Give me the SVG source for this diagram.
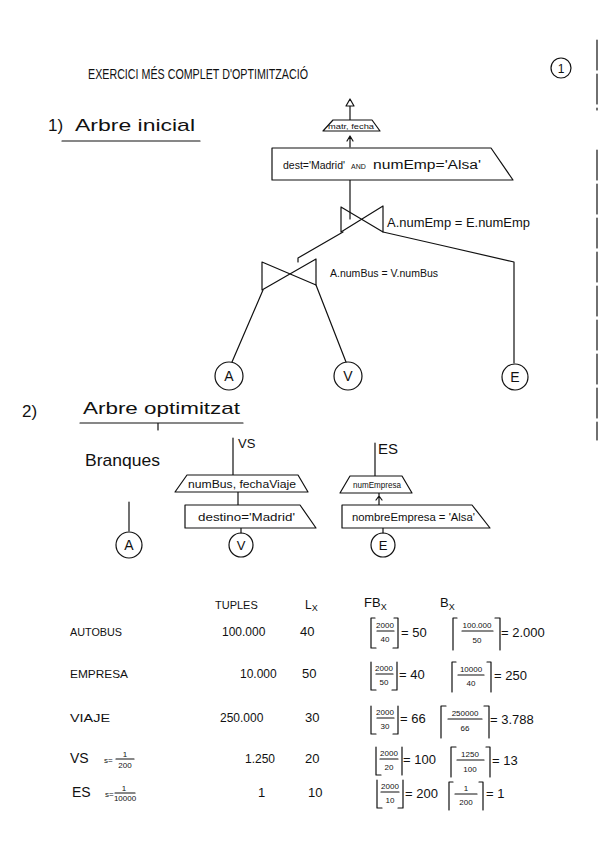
<svg xmlns="http://www.w3.org/2000/svg" width="599" height="848" viewBox="0 0 599 848">
<style>
text{font-family:"Liberation Sans","DejaVu Sans",sans-serif;fill:#111}
.ln{fill:none;stroke:#111;stroke-width:1.2;stroke-linecap:round;stroke-linejoin:round}
.sh{fill:#fff;stroke:#111;stroke-width:1.2;stroke-linejoin:round}
.c{text-anchor:middle}
.fr{font-size:8px;text-anchor:middle}
.row{font-size:13px}
</style>
<rect width="599" height="848" fill="#fff"/>

<g id="title">
<text x="88" y="79" font-size="15" textLength="220" lengthAdjust="spacingAndGlyphs">EXERCICI  MÉS  COMPLET  D'OPTIMITZACIÓ</text>
<circle cx="561" cy="68" r="10" class="ln"/>
<text x="561" y="73" font-size="12" class="c">1</text>
<path class="ln" d="M597 40V110M597 150V440" stroke-dasharray="30 4"/>
</g>

<g id="sec1">
<text x="48" y="131" font-size="17">1)</text>
<text x="75" y="131" font-size="17" textLength="120" lengthAdjust="spacingAndGlyphs">Arbre inicial</text>
<path class="ln" d="M62 141H200"/>
</g>

<g id="connectors">
<path class="ln" d="M350 120V106"/>
<path class="ln" d="M350 147V137M347 141L350 136L353 141"/>
<path class="ln" d="M350 180V219"/>
<path class="ln" d="M343 232L298 258V262"/>
<path class="ln" d="M383 232L440 245L514 262V363"/>
<path class="ln" d="M263 290L232 362"/>
<path class="ln" d="M316 285L346 362"/>
<path class="ln" d="M233 438V475"/>
<path class="ln" d="M238 492V505"/>
<path class="ln" d="M241 528V533"/>
<path class="ln" d="M129 502V531"/>
<path class="ln" d="M375 443V476"/>
<path class="ln" d="M379 493V505M376 500L379 496L382 500"/>
<path class="ln" d="M383 528V533"/>
</g>

<g id="proj1">
<path class="sh" d="M346 106L350 99L354 106Z"/>
<path class="sh" d="M333 120H372L380 131H323Z"/>
<text x="351" y="129" font-size="8" class="c" textLength="46" lengthAdjust="spacingAndGlyphs">matr, fecha</text>
</g>

<g id="sel1">
<path class="sh" d="M272 148H491L513 180H272Z"/>
<text x="283" y="169" font-size="11" textLength="62" lengthAdjust="spacingAndGlyphs">dest='Madrid'</text>
<text x="351" y="169" font-size="7">AND</text>
<text x="373" y="169" font-size="12" textLength="108" lengthAdjust="spacingAndGlyphs">numEmp='Alsa'</text>
</g>

<g id="join1">
<path class="ln" d="M341 207V232L383 206V232L341 207"/>
<text x="387" y="227" font-size="12" textLength="143" lengthAdjust="spacingAndGlyphs">A.numEmp = E.numEmp</text>
</g>

<g id="join2">
<path class="ln" d="M262 262V290L316 259V285L262 262"/>
<text x="330" y="277" font-size="10" textLength="108" lengthAdjust="spacingAndGlyphs">A.numBus = V.numBus</text>
</g>

<g id="leafA1"><circle cx="229" cy="376" r="14" class="ln"/><text x="229" y="381" font-size="14" class="c">A</text></g>
<g id="leafV1"><circle cx="348" cy="376" r="14" class="ln"/><text x="348" y="381" font-size="14" class="c">V</text></g>
<g id="leafE1"><circle cx="515" cy="377" r="13" class="ln"/><text x="515" y="382" font-size="14" class="c">E</text></g>

<g id="sec2">
<text x="22" y="417" font-size="17">2)</text>
<text x="83" y="414" font-size="17" textLength="157" lengthAdjust="spacingAndGlyphs">Arbre optimitzat</text>
<path class="ln" d="M80 423H243M158 423V430"/>
<text x="85" y="466" font-size="17" textLength="75" lengthAdjust="spacingAndGlyphs">Branques</text>
</g>

<g id="leafA2"><circle cx="129" cy="545" r="13" class="ln"/><text x="129" y="550" font-size="14" class="c">A</text></g>

<g id="projVS">
<text x="238" y="448" font-size="13">VS</text>
<path class="sh" d="M187 475H298L308 492H175Z"/>
<text x="242" y="488" font-size="10" class="c" textLength="108" lengthAdjust="spacingAndGlyphs">numBus, fechaViaje</text>
</g>
<g id="selVS">
<path class="sh" d="M185 505H300L316 528H185Z"/>
<text x="198" y="521" font-size="10" textLength="97" lengthAdjust="spacingAndGlyphs">destino='Madrid'</text>
</g>
<g id="leafV2"><circle cx="241" cy="545" r="12" class="ln"/><text x="241" y="550" font-size="13" class="c">V</text></g>

<g id="projES">
<text x="378" y="454" font-size="15">ES</text>
<path class="sh" d="M350 476H402L412 493H340Z"/>
<text x="377" y="488" font-size="9" class="c" textLength="48" lengthAdjust="spacingAndGlyphs">numEmpresa</text>
</g>
<g id="selES">
<path class="sh" d="M342 505H472L490 528H342Z"/>
<text x="352" y="521" font-size="10" textLength="123" lengthAdjust="spacingAndGlyphs">nombreEmpresa = 'Alsa'</text>
</g>
<g id="leafE2"><circle cx="383" cy="545" r="12" class="ln"/><text x="383" y="550" font-size="13" class="c">E</text></g>

<g id="table">
<text x="215" y="609" font-size="11">TUPLES</text>
<text x="305" y="609" font-size="12">L<tspan font-size="9" dy="2">X</tspan></text>
<text x="364" y="607" font-size="13">FB<tspan font-size="9" dy="3">X</tspan></text>
<text x="440" y="607" font-size="13">B<tspan font-size="9" dy="3">X</tspan></text>

<text x="70" y="636" font-size="11" textLength="52" lengthAdjust="spacingAndGlyphs">AUTOBUS</text>
<text x="222" y="636" font-size="12">100.000</text>
<text x="300" y="636" class="row" font-size="15">40</text>
<path class="ln" d="M375 618H371V648H376M394 618H398V648H393"/>
<text x="385" y="628" class="fr">2000</text><path class="ln" d="M377 631H394"/><text x="385" y="642" class="fr">40</text>
<text x="401" y="637" class="row">= 50</text>
<path class="ln" d="M457 618H453V650M495 618H500V650"/>
<text x="477" y="628" class="fr">100.000</text><path class="ln" d="M462 631H493"/><text x="477" y="643" class="fr">50</text>
<text x="501" y="637" class="row">= 2.000</text>

<text x="70" y="678" font-size="11" textLength="58" lengthAdjust="spacingAndGlyphs">EMPRESA</text>
<text x="240" y="678" font-size="12">10.000</text>
<text x="302" y="678" class="row" font-size="15">50</text>
<path class="ln" d="M371 662V690H376M397 662V690H392"/>
<text x="384" y="671" class="fr">2000</text><path class="ln" d="M376 674H393"/><text x="384" y="685" class="fr">50</text>
<text x="399" y="679" class="row">= 40</text>
<path class="ln" d="M456 662H452V692M487 662H491V692"/>
<text x="471" y="672" class="fr">10000</text><path class="ln" d="M458 675H484"/><text x="471" y="686" class="fr">40</text>
<text x="494" y="680" class="row" font-size="15">= 250</text>

<text x="70" y="722" font-size="11" textLength="40" lengthAdjust="spacingAndGlyphs">VIAJE</text>
<text x="220" y="722" font-size="12">250.000</text>
<text x="305" y="722" class="row">30</text>
<path class="ln" d="M371 706V734H376M398 706V734H393"/>
<text x="385" y="715" class="fr">2000</text><path class="ln" d="M377 718H394"/><text x="385" y="729" class="fr">30</text>
<text x="400" y="723" class="row">= 66</text>
<path class="ln" d="M446 706H441V738M484 706H489V738"/>
<text x="465" y="716" class="fr">250000</text><path class="ln" d="M448 719H482"/><text x="465" y="731" class="fr">66</text>
<text x="490" y="724" class="row">= 3.788</text>

<text x="70" y="763" font-size="14">VS</text>
<text x="104" y="763" font-size="8">s=</text>
<text x="125" y="757" class="fr">1</text><path class="ln" d="M116 759H134"/><text x="125" y="768" class="fr" font-size="7">200</text>
<text x="245" y="763" font-size="12">1.250</text>
<text x="305" y="763" class="row">20</text>
<path class="ln" d="M376 747V775H381M402 747V775"/>
<text x="389" y="756" class="fr">2000</text><path class="ln" d="M380 759H398"/><text x="389" y="770" class="fr">20</text>
<text x="403" y="764" class="row">= 100</text>
<path class="ln" d="M456 747H451V777M486 747H490V777"/>
<text x="470" y="757" class="fr">1250</text><path class="ln" d="M457 760H484"/><text x="470" y="772" class="fr">100</text>
<text x="492" y="765" class="row" font-size="14">= 13</text>

<text x="72" y="797" font-size="14">ES</text>
<text x="105" y="797" font-size="8">s=</text>
<text x="124" y="791" class="fr">1</text><path class="ln" d="M115 793H135"/><text x="125" y="801" class="fr" font-size="7">10000</text>
<text x="258" y="797" font-size="13">1</text>
<text x="308" y="797" class="row">10</text>
<path class="ln" d="M377 780V808H382M403 780V808H398"/>
<text x="390" y="789" class="fr">2000</text><path class="ln" d="M381 792H399"/><text x="390" y="803" class="fr">10</text>
<text x="405" y="798" class="row">= 200</text>
<path class="ln" d="M453 782H449V810M479 782H483V810"/>
<text x="466" y="791" class="fr">1</text><path class="ln" d="M455 794H477"/><text x="466" y="805" class="fr">200</text>
<text x="486" y="798" class="row" font-size="15">= 1</text>
</g>
</svg>
